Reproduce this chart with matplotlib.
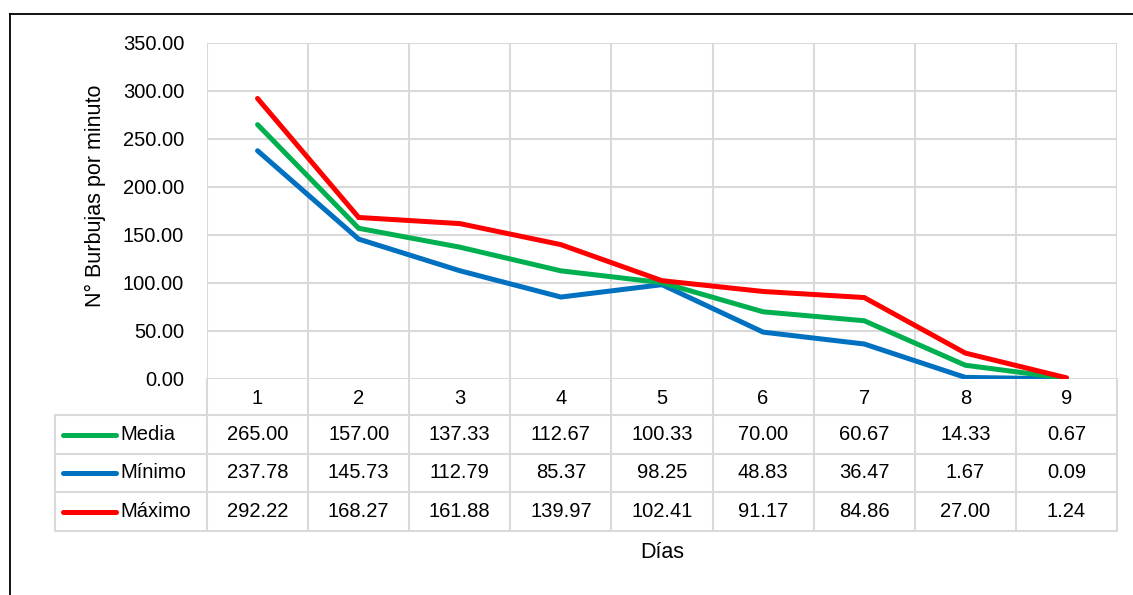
import numpy as np
import matplotlib
matplotlib.use('Agg')
from matplotlib import pyplot as plt
from matplotlib.lines import Line2D

plt.rcParams['font.family'] = ['Liberation Sans', 'DejaVu Sans']

dias = [1, 2, 3, 4, 5, 6, 7, 8, 9]
media = [265.00, 157.00, 137.33, 112.67, 100.33, 70.00, 60.67, 14.33, 0.67]
minimo = [237.78, 145.73, 112.79, 85.37, 98.25, 48.83, 36.47, 1.67, 0.09]
maximo = [292.22, 168.27, 161.88, 139.97, 102.41, 91.17, 84.86, 27.00, 1.24]
series_names = ['Media', 'Mínimo', 'Máximo']
y_ticks = [0, 50, 100, 150, 200, 250, 300, 350]

colors = {'Media': '#00B050', 'Mínimo': '#0070C0', 'Máximo': '#FF0000'}
grid_c = '#D9D9D9'
fs = 14.5
W, H = 1133, 595

fig = plt.figure(figsize=(W / 100, H / 100), dpi=100)
left, right, top, bottom = 207, 1117, 43, 379
ax = fig.add_axes([left / W, 1 - bottom / H, (right - left) / W, (bottom - top) / H])

series = {'Media': media, 'Mínimo': minimo, 'Máximo': maximo}
# blue under green under red
for name in ['Mínimo', 'Media', 'Máximo']:
    ax.plot(dias, series[name], color=colors[name], lw=3.6,
            solid_capstyle='round', solid_joinstyle='miter', zorder=3)

ax.set_xlim(0.5, 9.5)
ax.set_ylim(0, 350)
ax.set_yticks(y_ticks)
ax.set_yticklabels(['{:.2f}'.format(v) for v in y_ticks], fontsize=fs)
ax.set_xticks([])
ax.tick_params(axis='y', length=0, pad=16.5)
for s in ax.spines.values():
    s.set_visible(False)
for v in y_ticks:
    ax.axhline(v, color=grid_c, lw=1.5, zorder=1)
for xb in np.arange(0.5, 10, 1):
    ax.axvline(xb, color=grid_c, lw=1.5, zorder=1)

ax.set_ylabel('N° Burbujas por minuto', fontsize=15.5)
ax.yaxis.set_label_coords((106 - left) / (right - left),
                          1 - (196 - top) / (bottom - top))

# data table under the axes
px = lambda p: -(p - bottom) / (bottom - top)
row_lines = [415, 454, 492, 531]
trans = ax.get_xaxis_transform()
unit = (right - left) / 9
x_leg = 0.5 - (left - 55) / unit

for xb in np.arange(0.5, 10, 1):
    ax.plot([xb, xb], [0, px(531)], transform=trans, color=grid_c, lw=1.5,
            clip_on=False)
for r in row_lines:
    ax.plot([x_leg, 9.5], [px(r), px(r)], transform=trans, color=grid_c,
            lw=1.5, clip_on=False)
ax.plot([x_leg, x_leg], [px(415), px(531)], transform=trans, color=grid_c,
        lw=1.5, clip_on=False)

for d in dias:
    ax.text(d, px(398), str(d), transform=trans, ha='center', va='center',
            fontsize=fs)

for i, name in enumerate(series_names):
    yc = px((row_lines[i] + row_lines[i + 1]) / 2)
    x0 = 0.5 - (left - 63) / unit
    x1 = 0.5 - (left - 116) / unit
    ax.add_line(Line2D([x0, x1], [yc, yc], transform=trans, color=colors[name],
                       lw=3.6, solid_capstyle='round', clip_on=False))
    ax.text(0.5 - (left - 120) / unit, yc, name, transform=trans, ha='left',
            va='center', fontsize=fs)
    for d, v in zip(dias, series[name]):
        ax.text(d, yc, '{:.2f}'.format(v), transform=trans, ha='center',
                va='center', fontsize=fs)

fig.text(662 / W, 1 - 553 / H, 'Días', ha='center', va='center', fontsize=15.5)

# outer chart frame, cut off right and bottom
fig.add_artist(Line2D([10 / W, 10 / W], [0, 1 - 14 / H], color='black', lw=1.3))
fig.add_artist(Line2D([10 / W, 1], [1 - 14 / H, 1 - 14 / H], color='black', lw=1.3))

fig.savefig('out.png', dpi=100)
